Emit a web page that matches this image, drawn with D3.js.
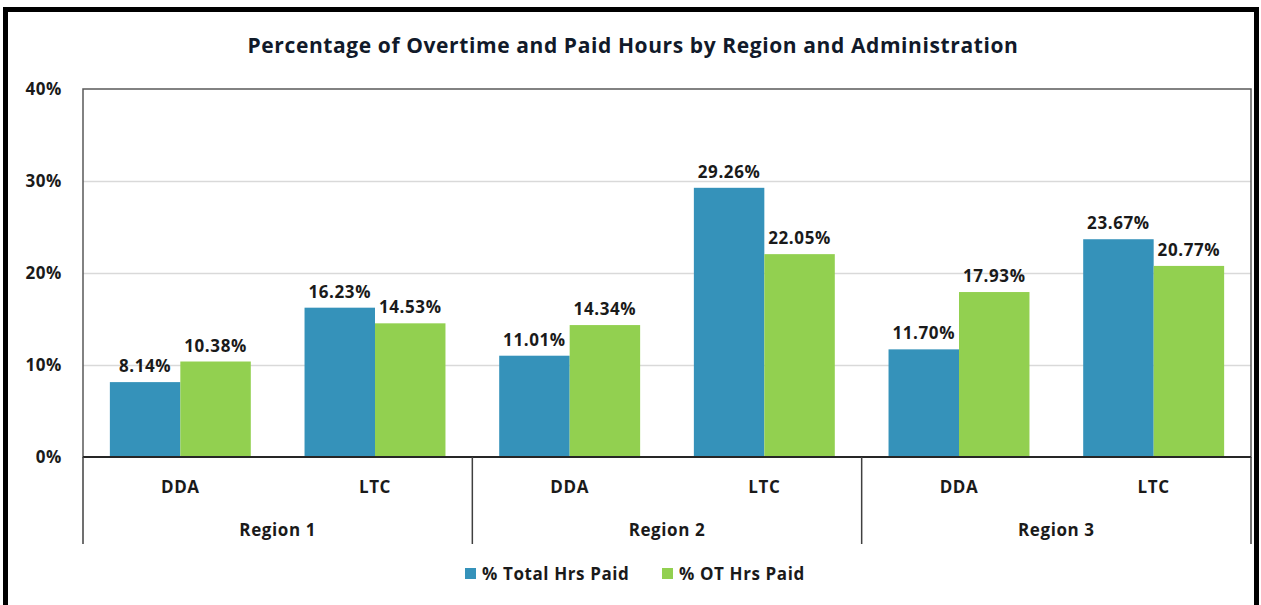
<!DOCTYPE html>
<html>
<head>
<meta charset="utf-8">
<script src="https://cdn.jsdelivr.net/npm/d3@7"></script>
<style>
  body { margin: 0; background: #fff; }
  text { font-family: "Open Sans", Lato, sans-serif; font-weight: bold; fill: #1a1a1a; letter-spacing: 0.6px; }
</style>
</head>
<body>
<div id="chart"></div>
<script>

//data
var regions = ["Region 1", "Region 2", "Region 3"];
var admins = ["DDA", "LTC"];
var series = ["% Total Hrs Paid", "% OT Hrs Paid"];
var totalHrs = [8.14, 16.23, 11.01, 29.26, 11.70, 23.67];
var otHrs = [10.38, 14.53, 14.34, 22.05, 17.93, 20.77];
var yTicks = [0, 10, 20, 30, 40];
var colors = ["#3592ba", "#92d050"];

var W = 1261, H = 605;
var margin = {top: 89, right: 10, bottom: 148, left: 83};
var plotW = 1251 - margin.left;
var plotH = 457 - margin.top;

//build category rows
var cats = [];
regions.forEach(function(r, i) {
  admins.forEach(function(a, j) {
    var k = i * admins.length + j;
    cats.push({key: r + "|" + a, region: r, admin: a, values: [totalHrs[k], otHrs[k]]});
  });
});

var svg = d3.select("#chart").append("svg")
    .attr("width", W)
    .attr("height", H);

//outer frame
svg.append("rect")
    .attr("x", 5.5).attr("y", 9.5)
    .attr("width", 1251).attr("height", 620)
    .attr("fill", "none")
    .attr("stroke", "#000")
    .attr("stroke-width", 5);

//title
svg.append("text")
    .attr("x", 633)
    .attr("y", 53)
    .attr("text-anchor", "middle")
    .style("font-size", "21px")
    .style("letter-spacing", "0.6px")
    .style("fill", "#111a2a")
    .text("Percentage of Overtime and Paid Hours by Region and Administration");

var g = svg.append("g")
    .attr("transform", "translate(" + margin.left + "," + margin.top + ")");

//scales
var x0 = d3.scaleBand()
    .domain(cats.map(function(d) { return d.key; }))
    .range([0, plotW])
    .padding(0);

var gap = x0.bandwidth() * 0.138;
var x1 = d3.scaleBand()
    .domain(series)
    .range([gap, x0.bandwidth() - gap])
    .padding(0);

var y = d3.scaleLinear()
    .domain([0, 40])
    .range([plotH, 0]);

//gridlines
g.selectAll(".grid")
    .data(yTicks.slice(1, -1))
    .enter().append("line")
    .attr("x1", 0).attr("x2", plotW)
    .attr("y1", function(d) { return Math.round(y(d)) + 0.5; })
    .attr("y2", function(d) { return Math.round(y(d)) + 0.5; })
    .attr("stroke", "#d9d9d9")
    .attr("stroke-width", 1.5);

//y axis labels
var yAxis = d3.axisLeft(y)
    .tickValues(yTicks)
    .tickSize(0)
    .tickPadding(21)
    .tickFormat(function(d) { return d + "%"; });

g.append("g")
    .call(yAxis)
    .call(function(a) { a.select(".domain").remove(); })
    .selectAll("text")
    .style("font-size", "17px")
    .style("font-family", "'Open Sans', sans-serif")
    .attr("fill", "#1a1a1a");

//bars
var groups = g.selectAll(".cat")
    .data(cats)
    .enter().append("g")
    .attr("transform", function(d) { return "translate(" + x0(d.key) + ",0)"; });

groups.selectAll("rect")
    .data(function(d) { return d.values.map(function(v, i) { return {s: series[i], v: v, i: i}; }); })
    .enter().append("rect")
    .attr("x", function(d) { return x1(d.s); })
    .attr("width", x1.bandwidth())
    .attr("y", function(d) { return y(d.v); })
    .attr("height", function(d) { return plotH - y(d.v); })
    .attr("fill", function(d) { return colors[d.i]; });

//value labels
groups.selectAll(".val")
    .data(function(d) { return d.values.map(function(v, i) { return {s: series[i], v: v}; }); })
    .enter().append("text")
    .attr("class", "val")
    .attr("x", function(d) { return x1(d.s) + x1.bandwidth() / 2; })
    .attr("y", function(d) { return y(d.v) - 10; })
    .attr("text-anchor", "middle")
    .style("font-size", "17px")
    .text(function(d) { return d.v.toFixed(2) + "%"; });

//plot border
g.append("rect")
    .attr("x", 0).attr("y", 0)
    .attr("width", plotW).attr("height", plotH)
    .attr("fill", "none")
    .attr("stroke", "#595959")
    .attr("stroke-width", 1.5);

//zero line
g.append("line")
    .attr("x1", 0).attr("x2", plotW)
    .attr("y1", plotH).attr("y2", plotH)
    .attr("stroke", "#262626")
    .attr("stroke-width", 2);

//category axis: admin labels
g.selectAll(".admin")
    .data(cats)
    .enter().append("text")
    .attr("x", function(d) { return x0(d.key) + x0.bandwidth() / 2; })
    .attr("y", plotH + 36)
    .attr("text-anchor", "middle")
    .style("font-size", "17px")
    .text(function(d) { return d.admin; });

//region separators
var regW = x0.bandwidth() * admins.length;
var seps = d3.range(regions.length + 1).map(function(i) { return i * regW; });
g.selectAll(".sep")
    .data(seps)
    .enter().append("line")
    .attr("x1", function(d) { return d; })
    .attr("x2", function(d) { return d; })
    .attr("y1", plotH)
    .attr("y2", plotH + 87)
    .attr("stroke", "#404040")
    .attr("stroke-width", 1.5);

//region labels
g.selectAll(".region")
    .data(regions)
    .enter().append("text")
    .attr("x", function(d, i) { return i * regW + regW / 2; })
    .attr("y", plotH + 79)
    .attr("text-anchor", "middle")
    .style("font-size", "17px")
    .text(function(d) { return d; });

//legend
var legX = [465, 662];
var leg = svg.selectAll(".leg")
    .data(series)
    .enter().append("g")
    .attr("transform", function(d, i) { return "translate(" + legX[i] + ",568)"; });

leg.append("rect")
    .attr("width", 11).attr("height", 11)
    .attr("fill", function(d, i) { return colors[i]; });

leg.append("text")
    .attr("x", 17)
    .attr("y", 12)
    .style("font-size", "17px")
    .text(function(d) { return d; });

</script>
</body>
</html>
